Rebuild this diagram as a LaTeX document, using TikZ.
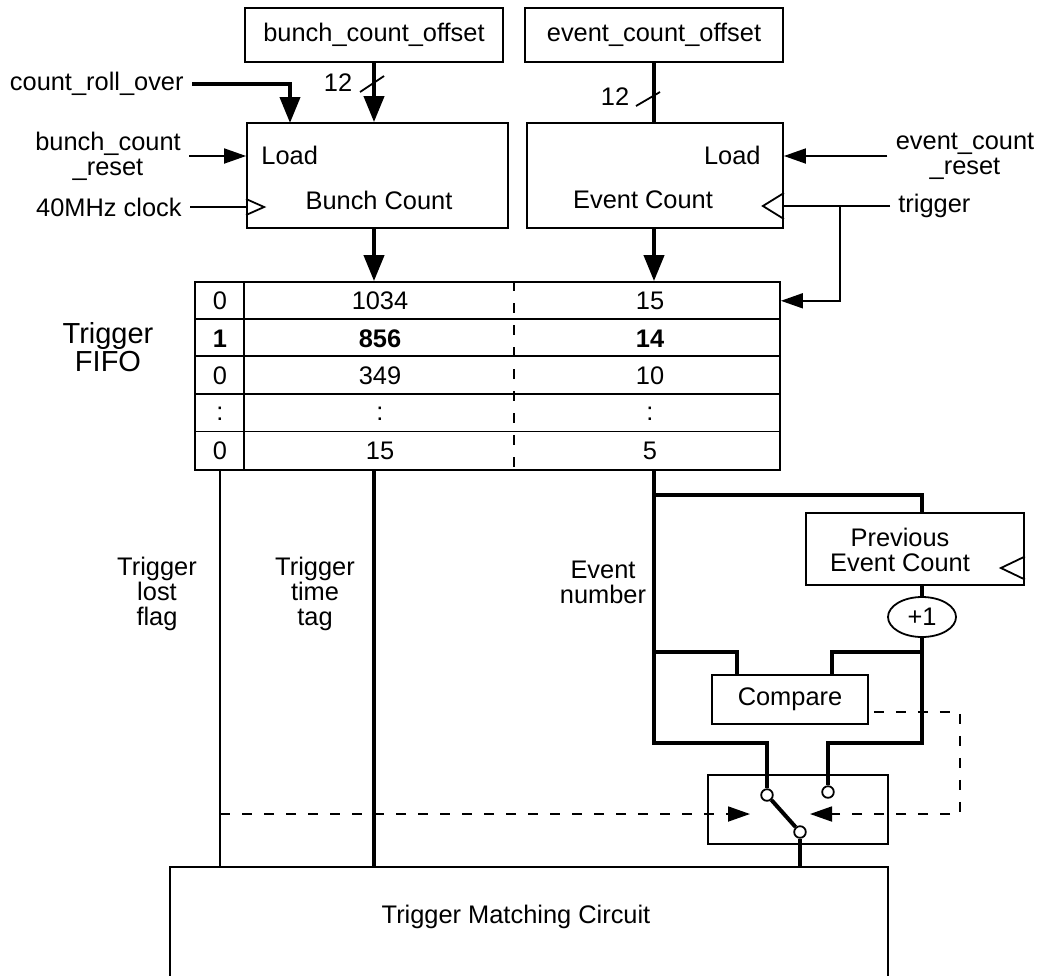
\documentclass[tikz,border=0pt]{standalone}
\usepackage{fontspec}
\setmainfont{Liberation Sans}
\usetikzlibrary{arrows.meta, shapes.geometric}

\begin{document}
\begin{tikzpicture}[
    x=0.5pt, y=-0.5pt,
    font=\fontsize{12.7}{12.4}\selectfont,
    blk/.style={draw, line width=0.9pt, inner sep=0pt},
    lbl/.style={inner xsep=4pt, inner ysep=1pt, align=center},
    tn/.style={line width=0.9pt},
    tk/.style={line width=2pt},
    tka/.style={tk, -{Triangle[length=13pt, width=10pt]}},
    tna/.style={tn, -{Triangle[length=11pt, width=7.5pt]}},
    dsh/.style={tn, dash pattern=on 5pt off 6pt},
    knob/.style={circle, draw, line width=0.9pt, fill=white, inner sep=0pt, minimum size=5.8pt},
  ]
    \useasboundingbox (0,0) rectangle (1043,975);
    \clip (0,0) rectangle (1043,975);

    % counters
    \node[blk, minimum width=129pt, minimum height=27pt] (bco) at (374,35) {bunch\_count\_offset};
    \node[blk, minimum width=129pt, minimum height=27pt] (eco) at (654,35) {event\_count\_offset};
    \node[blk, minimum width=130.5pt, minimum height=52.5pt] (bc) at (377.5,175.5) {};
    \node[blk, minimum width=128pt, minimum height=52.5pt] (ec) at (655,175.5) {};
    \node[lbl, anchor=west] (bcld) at (253,155) {Load};
    \node[lbl] (bctxt) at (379,200) {Bunch Count};
    \node[lbl, anchor=east] (ecld) at (769,155) {Load};
    \node[lbl] (ectxt) at (643,200) {Event Count};

    % inputs
    \node[lbl, anchor=east] (croll) at (192,84) {count\_roll\_over};
    \node[lbl] (bcrst) at (108,156) {bunch\_count\\\_reset};
    \node[lbl, anchor=east] (clk) at (190,207) {40MHz clock};
    \node[lbl] (ecrst) at (965,156) {event\_count\\\_reset};
    \node[lbl, anchor=west] (trig) at (890,206) {trigger};
    \coordinate (crin) at (290,123);
    \coordinate (tbr) at (840,0);

    \draw[tka] (croll.east) -| (crin);
    \draw[tka] (bco.south) -- (bco.south |- bc.north);
    \draw[tk] (eco.south) -- (eco.south |- ec.north);
    \draw[tn] (360,92) -- (384,76);
    \node (bw) at (338,83) {12};
    \draw[tn] (636,106) -- (660,92);
    \node (ew) at (615,97) {12};
    \draw[tna] (bcrst.east) -- (bcrst.east -| bc.west);
    \draw[tn] (clk.east) -- (clk.east -| bc.west);
    \coordinate (bck) at (clk.east -| bc.west);
    \draw[tn] ([yshift=4pt]bck) -- ([xshift=9pt]bck) -- ([yshift=-4pt]bck);
    \draw[tna] (ecrst.west) -- (ecrst.west -| ec.east);
    \draw[tn] (trig.west) -- (trig.west -| ec.east);
    \coordinate (eck) at (trig.west -| ec.east);
    \draw[tn] ([yshift=6.5pt]eck) -- ([xshift=-10.5pt]eck) -- ([yshift=-6.5pt]eck);

    % trigger fifo
    \node[blk, minimum width=292.5pt, minimum height=94pt] (fifo) at (487.5,376) {};
    \node[lbl, font=\fontsize{14.5}{12}\selectfont] (fifolbl) at (108,347) {Trigger\\FIFO};
    \foreach \k in {1,...,4}
      \draw[tn] (fifo.north west) ++(0,{\k*37.6}) -- ++(585,0);
    \draw[tn] (fifo.north west) ++(50,0) -- ++(0,188);
    \draw[dsh] (fifo.north west) ++(320,0) -- ++(0,188);
    \foreach \fl/\bn/\ev [count=\i] in {0/1034/15, \textbf{1}/\textbf{856}/\textbf{14}, 0/349/10, :/:/:, 0/15/5} {
      \node (fl\i) at (220,{282+(\i-0.5)*37.6}) {\fl};
      \node (bn\i) at (380,{282+(\i-0.5)*37.6}) {\bn};
      \node (ev\i) at (650,{282+(\i-0.5)*37.6}) {\ev};
    }
    \draw[tka] (bco.south |- bc.south) -- (bco.south |- fifo.north);
    \draw[tka] (eco.south |- ec.south) -- (eco.south |- fifo.north);
    \draw[tna] (trig.west -| tbr) |- (fl1 -| fifo.east);

    % trigger matching
    \node[blk, minimum width=359pt, minimum height=66.5pt] (tmc) at (529,933.5) {};
    \node[lbl] (tmctxt) at (516,917) {Trigger Matching Circuit};
    \node[lbl] (lostlbl) at (157,594) {Trigger\\lost\\flag};
    \node[lbl] (timelbl) at (315,594) {Trigger\\time\\tag};
    \node[lbl] (evlbl) at (603,582) {Event\\number};
    \draw[tn] (fl5 |- fifo.south) -- (fl5 |- tmc.north);
    \draw[tk] (bco.south |- fifo.south) -- (bco.south |- tmc.north);

    % event number check
    \node[blk, minimum width=109pt, minimum height=36pt] (pec) at (915,549) {};
    \node[lbl] (pectxt) at (900,550) {Previous\\Event Count};
    \coordinate (pck) at ([yshift=-9.5pt]pec.east);
    \draw[tn] ([yshift=5.75pt]pck) -- ([xshift=-12pt]pck) -- ([yshift=-5.75pt]pck);
    \node[ellipse, draw, line width=0.9pt, inner sep=0pt, minimum width=34pt, minimum height=20pt] (inc) at (922,617) {+1};
    \node[blk, minimum width=78pt, minimum height=24.5pt] (cmp) at (790,699.5) {Compare};
    \node[blk, minimum width=90pt, minimum height=34.5pt] (swb) at (798,809.5) {};
    \node[knob] (swa) at (767,795) {};
    \node[knob] (swc) at (828,792) {};
    \node[knob] (swo) at (800,832) {};
    \coordinate (ja) at (654,495);
    \coordinate (jb) at (654,652);
    \coordinate (jc) at (654,743);
    \coordinate (jd) at (922,652);
    \coordinate (je) at (922,743);
    \coordinate (cfb) at (960,814);
    \coordinate (swr) at (810,814);
    \coordinate (swl) at (750,814);

    \draw[tk] (eco.south |- fifo.south) -- (jc) -| (swa.north);
    \draw[tk] (ja) -| (inc.north |- pec.north);
    \draw[tk] (inc.north |- pec.south) -- (inc.north);
    \draw[tk] (inc.south) -- (je) -| (swc.north);
    \draw[tk] (jb) -| ([xshift=13pt]cmp.north west);
    \draw[tk] (jd) -| ([xshift=-18.5pt]cmp.north east);
    \draw[tk] (swa) -- (swo);
    \draw[tk] (swo.south) -- (swo.south |- tmc.north);
    \draw[dsh, -{Triangle[length=11pt, width=7.5pt]}] ([xshift=2.5pt, yshift=-6.25pt]cmp.east) -| (cfb) -- (swr);
    \draw[dsh, -{Triangle[length=11pt, width=7.5pt]}] (fl5 |- swl) -- (swl);
  \end{tikzpicture}
\end{document}
